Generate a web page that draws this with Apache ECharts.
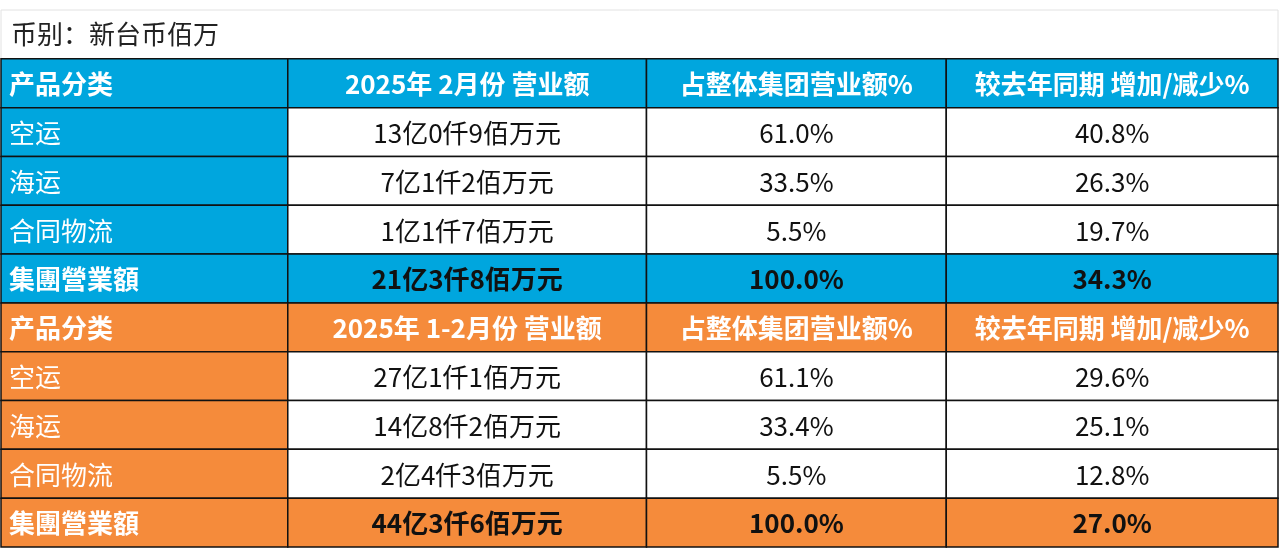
<!DOCTYPE html><html><head><meta charset="utf-8"><script src="https://cdn.jsdelivr.net/npm/echarts@6/dist/echarts.min.js"></script>
<style>html,body{margin:0;padding:0;background:#fff}#c{width:1280px;height:556px}</style></head><body><div id="c"></div><script>
const note = '币别：新台币佰万';
const colEdges = [0, 287, 646, 946, 1278];
const headers1 = ['产品分类', '2025年 2月份 营业额', '占整体集团营业额%', '较去年同期 增加/减少%'];
const headers2 = ['产品分类', '2025年 1-2月份 营业额', '占整体集团营业额%', '较去年同期 增加/减少%'];
const categories = ['空运', '海运', '合同物流'];
const totalLabel = '集團營業額';
const rev1 = ['13亿0仟9佰万元', '7亿1仟2佰万元', '1亿1仟7佰万元', '21亿3仟8佰万元'];
const share1 = ['61.0%', '33.5%', '5.5%', '100.0%'];
const yoy1 = ['40.8%', '26.3%', '19.7%', '34.3%'];
const rev2 = ['27亿1仟1佰万元', '14亿8仟2佰万元', '2亿4仟3佰万元', '44亿3仟6佰万元'];
const share2 = ['61.1%', '33.4%', '5.5%', '100.0%'];
const yoy2 = ['29.6%', '25.1%', '12.8%', '27.0%'];

const BLUE = '#00A6DE', ORANGE = '#F58B3B';
const cells = [];
function block(r0, headers, rev, share, yoy, color) {
  headers.forEach((h, c) => cells.push([c, r0, h, color, '#fff', 'bold', c === 0 ? 'left' : 'center']));
  const names = categories.concat([totalLabel]);
  names.forEach((n, i) => {
    const r = r0 + 1 + i, tot = i === 3;
    cells.push([0, r, n, color, '#fff', tot ? 'bold' : 'normal', 'left']);
    [rev[i], share[i], yoy[i]].forEach((v, k) => cells.push([k + 1, r, v, tot ? color : '#fff', '#111', tot ? 'bold' : 'normal', 'center']));
  });
}
block(1, headers1, rev1, share1, yoy1, BLUE);
block(6, headers2, rev2, share2, yoy2, ORANGE);

const chart = echarts.init(document.getElementById('c'));
chart.setOption({
  animation: false,
  grid: { left: 1, right: 2, top: 10, bottom: 9 },
  xAxis: { type: 'value', min: 0, max: 1278, show: false },
  yAxis: { type: 'value', min: 0, max: 11, inverse: true, show: false },
  series: [{
    type: 'custom',
    data: [[0, 0, note, '#fff', '#222', 'normal', 'left']],
    renderItem(p, api) {
      const a = api.coord([0, 0]), b = api.coord([1278, 1]);
      return { type: 'group', children: [
        { type: 'rect', shape: { x: a[0], y: a[1], width: b[0] - a[0], height: b[1] - a[1] }, style: { fill: '#fff', stroke: '#e2e2e2', lineWidth: 1 } },
        { type: 'text', style: { x: a[0] + 10, y: (a[1] + b[1]) / 2, text: note, fill: '#222', font: '26px "Noto Sans CJK SC"', verticalAlign: 'middle' } }
      ]};
    }
  }, {
    type: 'custom',
    data: cells,
    renderItem(p, api) {
      const d = cells[p.dataIndex];
      const c = d[0], r = d[1];
      const a = api.coord([colEdges[c], r]), b = api.coord([colEdges[c + 1], r + 1]);
      const left = d[6] === 'left';
      return { type: 'group', children: [
        { type: 'rect', shape: { x: a[0], y: a[1], width: b[0] - a[0], height: b[1] - a[1] }, style: { fill: d[3], stroke: '#111', lineWidth: 1.5 } },
        { type: 'text', style: { x: left ? a[0] + 8 : (a[0] + b[0]) / 2, y: (a[1] + b[1]) / 2 + 1, text: d[2], fill: d[4], font: d[5] + ' 26px "Noto Sans CJK SC"', align: left ? 'left' : 'center', verticalAlign: 'middle' } }
      ]};
    }
  }]
});
</script></body></html>
